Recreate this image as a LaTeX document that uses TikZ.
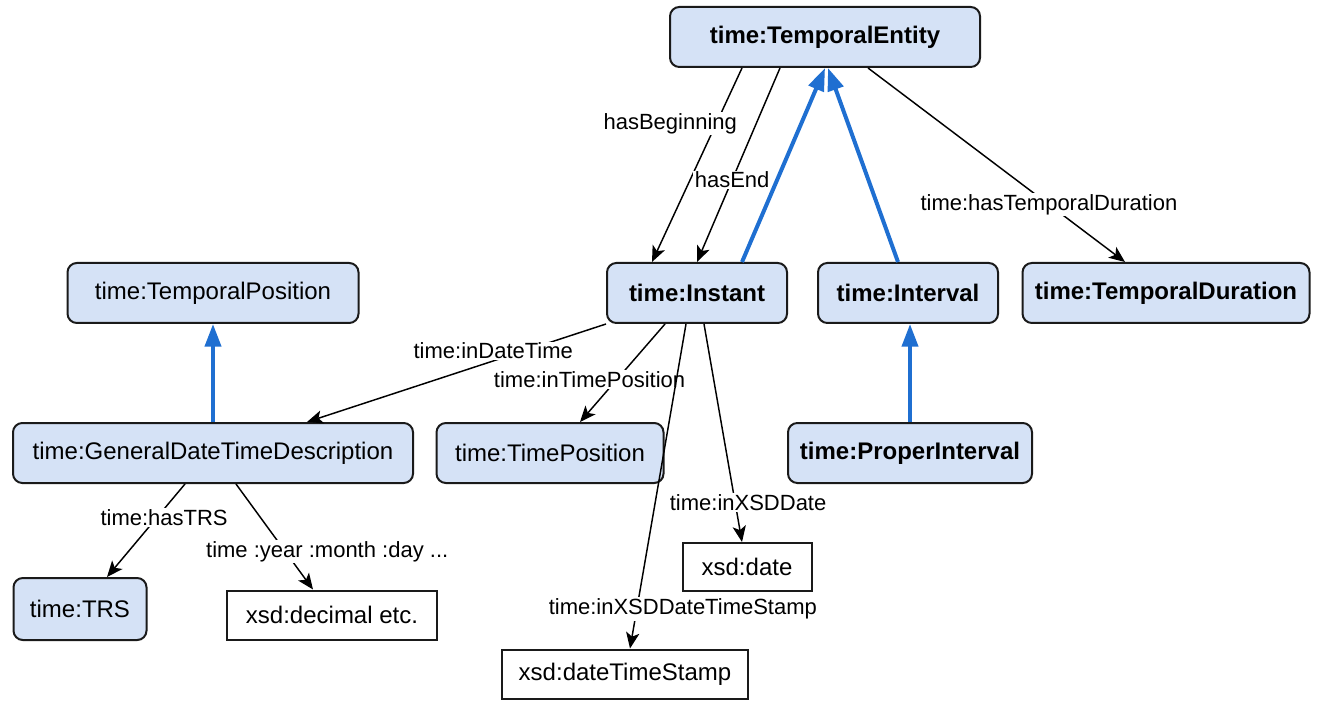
\documentclass[tikz,border=0pt]{standalone}
\usepackage{fontspec}
\setmainfont{Liberation Sans}
\usetikzlibrary{arrows.meta}
\newdimen\pxu \pxu=0.75pt
\definecolor{cfill}{HTML}{D5E2F6}
\definecolor{cblue}{HTML}{1F6FD1}
\definecolor{cline}{HTML}{1A1A1A}
\begin{document}
\begin{tikzpicture}[x=0.75pt,y=-0.75pt,
  cls/.style={draw=cline, line width=1.5pt, fill=cfill, rounded corners=7pt, inner sep=0pt, font=\fontsize{18}{21}\selectfont},
  lit/.style={draw=cline, line width=1.5pt, fill=white, inner sep=0pt, font=\fontsize{18}{21}\selectfont},
  prop/.style={draw=black, line width=1.1pt, -{Stealth[length=12pt,width=10pt,inset=3pt]}},
  sub/.style={draw=cblue, line width=3pt, -{Triangle[length=17pt,width=12pt]}},
  lbl/.style={fill=white, inner sep=1pt, font=\fontsize{16.5}{19}\selectfont},
]
\useasboundingbox (0,0) rectangle (1337,705);

% classes
\node[cls, minimum width=310*\pxu, minimum height=60*\pxu] (TE) at (825,37) {\textbf{time:TemporalEntity}};
\node[cls, minimum width=180*\pxu, minimum height=60*\pxu] (IN) at (697,293) {\textbf{time:Instant}};
\node[cls, minimum width=180*\pxu, minimum height=60*\pxu] (IV) at (908,293) {\textbf{time:Interval}};
\node[cls, minimum width=287*\pxu, minimum height=60*\pxu] (TD) at (1166,293) {\textbf{time:TemporalDuration}};
\node[cls, minimum width=244*\pxu, minimum height=60*\pxu] (PI) at (910,453) {\textbf{time:ProperInterval}};
\node[cls, minimum width=291*\pxu, minimum height=60*\pxu] (TP) at (213,293) {time:TemporalPosition};
\node[cls, minimum width=400*\pxu, minimum height=60*\pxu] (GD) at (213,453) {time:GeneralDateTimeDescription};
\node[cls, minimum width=227*\pxu, minimum height=60*\pxu] (TPos) at (550,453) {time:TimePosition};
\node[cls, minimum width=133*\pxu, minimum height=62*\pxu] (TRS) at (80,609) {time:TRS};

% literals
\node[lit, minimum width=210*\pxu, minimum height=49*\pxu] (DEC) at (332,615) {xsd:decimal etc.};
\node[lit, minimum width=129*\pxu, minimum height=48*\pxu] (DATE) at (747,567) {xsd:date};
\node[lit, minimum width=246*\pxu, minimum height=49*\pxu] (DTS) at (625,674) {xsd:dateTimeStamp};

% subclass arrows
\draw[sub] ([xshift=45*\pxu]IN.north) -- (TE.south);
\draw[sub] ([xshift=-10*\pxu]IV.north) -- ([xshift=3*\pxu]TE.south);
\draw[sub] (GD.north) -- (TP.south);
\draw[sub] (PI.north) -- ([xshift=2*\pxu]IV.south);

% properties
\draw[prop] ([xshift=-83*\pxu]TE.south) -- node[lbl, pos=0.286, xshift=-46*\pxu] (lHB) {hasBeginning} ([xshift=-45*\pxu]IN.north);
\draw[prop] ([xshift=-45*\pxu]TE.south) -- node[lbl, pos=0.577] (lHE) {hasEnd} (IN.north);
\draw[prop] ([xshift=43*\pxu]TE.south) -- node[lbl, pos=0.704] (lTD) {time:hasTemporalDuration} ([xshift=-41*\pxu]TD.north);
\draw[prop] (IN.south west) -- node[lbl, pos=0.377, yshift=10*\pxu] (lDT) {time:inDateTime} ([xshift=94*\pxu]GD.north);
\draw[prop] ([xshift=-32*\pxu]IN.south) -- node[lbl, pos=0.57, xshift=-27*\pxu] (lTPo) {time:inTimePosition} ([xshift=30*\pxu]TPos.north);
\draw[prop] ([xshift=-11*\pxu]IN.south) -- node[lbl, pos=0.878, xshift=46*\pxu] (lDTS) {time:inXSDDateTimeStamp} ([xshift=5*\pxu]DTS.north);
\draw[prop] ([xshift=7*\pxu]IN.south) -- node[lbl, pos=0.818, xshift=13*\pxu] (lXD) {time:inXSDDate} ([xshift=-5*\pxu]DATE.north);
\draw[prop] ([xshift=-28*\pxu]GD.south) -- node[lbl, pos=0.358, xshift=7*\pxu] (lTRS) {time:hasTRS} ([xshift=27*\pxu]TRS.north);
\draw[prop] ([xshift=23*\pxu]GD.south) -- node[lbl, pos=0.639, xshift=42*\pxu] (lYR) {time :year :month :day ...} ([xshift=-19*\pxu]DEC.north);
\end{tikzpicture}
\end{document}
